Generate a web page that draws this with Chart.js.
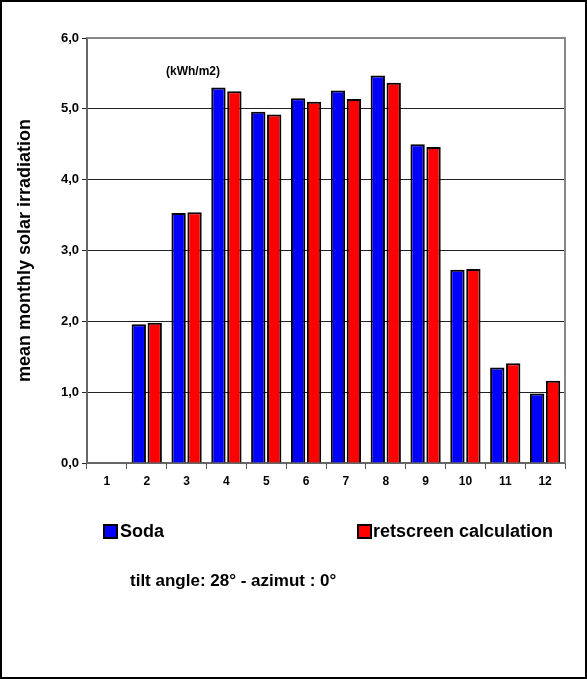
<!DOCTYPE html>
<html>
<head>
<meta charset="utf-8">
<script src="https://cdn.jsdelivr.net/npm/chart.js@4"></script>
<style>
  html, body { margin: 0; padding: 0; background: #fff; }
  #wrap { position: relative; width: 587px; height: 679px; }
  #frame { position: absolute; left: 0px; top: 0px; width: 583px; height: 675px; border: 2px solid #000; pointer-events: none; }
</style>
</head>
<body>
<div id="wrap">
  <canvas id="solarChart" width="587" height="679"></canvas>
  <div id="frame"></div>
</div>
<script>
const months = ['1', '2', '3', '4', '5', '6', '7', '8', '9', '10', '11', '12'];
const sodaValues = [0, 1.96, 3.53, 5.30, 4.96, 5.15, 5.26, 5.47, 4.50, 2.73, 1.35, 0.98];
const retscreenValues = [0, 1.98, 3.54, 5.25, 4.92, 5.10, 5.14, 5.37, 4.46, 2.74, 1.41, 1.16];
const yTicks = [0, 1, 2, 3, 4, 5, 6];

const FONT = '"Liberation Sans", Arial, sans-serif';

// extra texts: unit note, legend boxes and the subtitle
const extrasPlugin = {
    id: 'extras',
    afterDraw(chart) {
        const c = chart.ctx;
        const a = chart.chartArea;
        c.save();
        // grey plot border on top and right
        c.strokeStyle = '#888';
        c.lineWidth = 2;
        c.beginPath();
        c.moveTo(a.left, a.top);
        c.lineTo(a.right, a.top);
        c.lineTo(a.right, a.bottom);
        c.stroke();

        c.fillStyle = '#000';
        c.textBaseline = 'middle';
        c.font = 'bold 12px ' + FONT;
        c.fillText('(kWh/m2)', 166, 72);

        c.font = 'bold 18px ' + FONT;
        c.lineWidth = 2;
        c.strokeStyle = '#000';
        c.fillStyle = '#0000ff';
        c.fillRect(103, 524, 14, 14);
        c.strokeRect(104, 525, 13, 13);
        c.fillStyle = '#ff0000';
        c.fillRect(357, 524, 14, 14);
        c.strokeRect(358, 525, 13, 13);
        c.fillStyle = '#000';
        c.fillText('Soda', 120, 532);
        c.fillText('retscreen calculation', 373, 532);

        c.font = 'bold 17px ' + FONT;
        c.fillText('tilt angle: 28° - azimut : 0°', 130, 581);
        c.restore();
    }
};

new Chart(document.getElementById('solarChart').getContext('2d'), {
    type: 'bar',
    data: {
        labels: months,
        datasets: [{
            label: 'Soda',
            data: sodaValues,
            backgroundColor: '#0000ff',
            borderColor: '#000',
            borderWidth: 2,
            borderSkipped: 'bottom'
        }, {
            label: 'retscreen calculation',
            data: retscreenValues,
            backgroundColor: '#ff0000',
            borderColor: '#000',
            borderWidth: 2,
            borderSkipped: 'bottom'
        }]
    },
    options: {
        responsive: false,
        animation: false,
        layout: { padding: { left: 10, right: 22, top: 38, bottom: 186 } },
        plugins: { legend: { display: false }, tooltip: { enabled: false } },
        scales: {
            x: {
                offset: true,
                afterFit(scale) { scale.height = 30; },
                grid: { drawOnChartArea: false, color: '#555', tickLength: 6, offset: true },
                border: { color: '#666', width: 2 },
                ticks: { color: '#000', font: { family: FONT, size: 12, weight: 'bold' }, padding: 5 },
                categoryPercentage: 0.7,
                barPercentage: 1
            },
            y: {
                min: 0,
                max: 6,
                afterFit(scale) { scale.width = 77; },
                afterBuildTicks(scale) { scale.ticks = yTicks.map(v => ({ value: v })); },
                grid: { color: '#222', tickLength: 5 },
                border: { color: '#666', width: 2 },
                ticks: {
                    color: '#000',
                    font: { family: FONT, size: 13, weight: 'bold' },
                    callback: v => v.toFixed(1).replace('.', ',')
                },
                title: {
                    display: true,
                    text: 'mean monthly solar irradiation',
                    color: '#000',
                    font: { family: FONT, size: 18, weight: 'bold' }
                }
            }
        }
    },
    plugins: [extrasPlugin]
});
</script>
</body>
</html>
